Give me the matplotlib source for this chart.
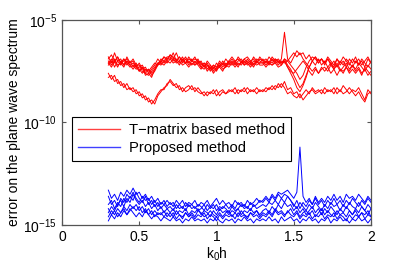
import numpy as np
import matplotlib
matplotlib.use("Agg")
import matplotlib.pyplot as plt

plt.rcParams['font.family'] = ['Liberation Sans', 'DejaVu Sans']
plt.rcParams['mathtext.default'] = 'regular'

# k0h sampling, 0.30 .. 2.00 step 0.02 (86 points)
k0h = np.round(np.arange(0.30, 2.0001, 0.02), 3)

# log10 of the error, T-matrix based method (red)
red_a = [-6.8, -7.1, -6.6, -7.0, -6.9, -7.2, -6.8, -7.1, -7.0, -7.3,
         -7.1, -7.4, -7.3, -7.6, -7.4, -7.2, -6.9, -7.1, -6.8, -7.0,
         -6.7, -6.9, -6.6, -7.0, -6.8, -7.1, -6.9, -7.0, -6.8, -7.1,
         -7.0, -7.3, -7.1, -7.4, -7.2, -7.3, -7.0, -7.2, -6.9, -7.1,
         -6.9, -7.1, -6.8, -7.0, -7.2, -6.9, -7.1, -6.8, -7.0, -7.1,
         -6.9, -7.1, -6.8, -7.0, -6.9, -7.1, -6.9, -5.6, -6.9, -7.1,
         -6.8, -6.5, -6.7, -6.6, -6.9, -6.7, -7.0, -6.8, -7.1, -6.9,
         -7.2, -6.9, -7.1, -7.3, -6.9, -7.2, -7.0, -7.3, -6.9, -7.1,
         -6.8, -7.2, -7.0, -7.3, -6.9, -7.1]
red_b = [-7.1, -6.9, -7.3, -7.0, -7.2, -6.9, -7.1, -7.3, -7.2, -7.4,
         -7.3, -7.2, -7.5, -7.4, -7.7, -7.5, -7.2, -7.0, -7.1, -6.9,
         -6.9, -6.6, -7.0, -6.8, -7.1, -6.9, -7.2, -7.0, -7.1, -6.9,
         -7.2, -7.1, -7.4, -7.2, -7.5, -7.3, -7.2, -7.1, -7.3, -7.0,
         -7.1, -7.0, -7.2, -7.1, -6.9, -7.1, -7.0, -7.2, -6.9, -7.0,
         -7.1, -7.0, -7.2, -6.9, -7.1, -7.0, -7.2, -6.9, -7.2, -7.4,
         -7.7, -8.0, -8.3, -8.1, -7.7, -7.3, -7.0, -7.2, -6.9, -7.2,
         -7.0, -7.3, -7.1, -7.4, -7.2, -7.5, -7.3, -7.1, -7.4, -7.2,
         -7.4, -7.1, -7.3, -7.5, -7.2, -7.4]
red_c = [-7.0, -7.2, -6.9, -7.2, -7.1, -6.9, -7.2, -7.0, -7.3, -7.1,
         -7.4, -7.6, -7.4, -7.5, -7.3, -7.1, -7.2, -6.9, -7.0, -6.8,
         -6.8, -7.0, -6.9, -7.1, -7.0, -6.8, -7.1, -6.9, -7.2, -7.0,
         -7.3, -7.1, -7.2, -7.5, -7.3, -7.4, -7.1, -7.3, -7.1, -7.2,
         -7.0, -7.2, -7.0, -6.9, -7.1, -7.0, -7.2, -7.0, -7.1, -6.9,
         -7.0, -7.2, -7.0, -7.1, -6.9, -7.0, -7.1, -6.9, -7.0, -7.2,
         -7.4, -7.6, -7.9, -7.7, -7.3, -7.0, -6.8, -6.9, -7.1, -6.9,
         -7.1, -6.9, -7.2, -7.0, -7.3, -7.0, -7.2, -6.9, -7.1, -7.3,
         -7.0, -7.2, -6.9, -7.1, -7.3, -7.0]
red_d = [-7.2, -7.0, -7.1, -6.8, -7.1, -7.3, -7.0, -7.2, -7.4, -7.2,
         -7.5, -7.3, -7.6, -7.7, -7.5, -7.3, -7.1, -7.2, -7.0, -7.1,
         -6.9, -7.1, -7.0, -7.2, -6.9, -7.1, -7.0, -7.2, -7.0, -7.2,
         -7.4, -7.2, -7.5, -7.3, -7.6, -7.4, -7.3, -7.5, -7.2, -7.3,
         -7.1, -7.3, -7.1, -7.2, -7.0, -7.2, -7.1, -7.3, -7.0, -7.2,
         -7.2, -7.0, -7.1, -7.2, -7.0, -7.2, -7.0, -7.1, -7.0, -6.8,
         -6.6, -6.8, -6.6, -6.9, -7.1, -7.3, -7.5, -7.3, -7.6, -7.4,
         -7.3, -7.5, -7.2, -7.4, -7.1, -7.4, -7.6, -7.3, -7.5, -7.2,
         -7.5, -7.3, -7.6, -7.4, -7.7, -7.5]
red_e = [-6.9, -6.7, -7.0, -6.8, -7.1, -7.0, -6.9, -7.1, -6.9, -7.2,
         -7.2, -7.5, -7.6, -7.4, -7.6, -7.4, -7.1, -7.0, -6.8, -6.9,
         -6.7, -6.8, -7.0, -6.8, -7.0, -7.1, -6.8, -7.0, -6.9, -7.0,
         -7.1, -7.3, -7.0, -7.2, -7.4, -7.1, -7.3, -7.0, -7.2, -7.0,
         -6.8, -7.0, -6.9, -7.1, -6.9, -6.8, -7.0, -6.9, -7.1, -6.8,
         -7.0, -6.9, -7.1, -6.8, -7.0, -6.9, -7.1, -7.0, -7.3, -7.6,
         -7.9, -8.3, -8.5, -8.2, -7.8, -7.3, -7.0, -6.8, -7.0, -6.9,
         -7.1, -6.8, -7.0, -7.2, -6.9, -7.1, -6.8, -7.0, -7.2, -6.9,
         -7.1, -6.9, -7.2, -7.0, -6.8, -7.1]
red_f = [-7.1, -7.3, -7.0, -7.3, -7.0, -7.2, -7.0, -7.2, -7.1, -7.3,
         -7.5, -7.3, -7.7, -7.6, -7.8, -7.4, -7.2, -7.1, -7.2, -7.0,
         -7.1, -6.9, -7.1, -7.0, -7.2, -7.1, -7.3, -7.1, -7.2, -7.1,
         -7.3, -7.4, -7.2, -7.4, -7.2, -7.5, -7.2, -7.4, -7.3, -7.1,
         -7.2, -7.1, -7.3, -7.0, -7.2, -7.1, -7.3, -7.1, -7.2, -7.1,
         -7.1, -7.3, -7.1, -7.2, -7.1, -7.3, -7.2, -7.0, -7.3, -7.5,
         -7.6, -7.4, -7.2, -7.0, -7.2, -7.5, -7.7, -7.4, -7.6, -7.3,
         -7.5, -7.3, -7.6, -7.4, -7.7, -7.4, -7.5, -7.3, -7.6, -7.4,
         -7.6, -7.4, -7.7, -7.3, -7.5, -7.7]
red_g = [-7.6, -7.9, -7.7, -8.1, -8.0, -8.3, -8.1, -8.4, -8.3, -8.6,
         -8.5, -8.8, -8.7, -9.0, -8.9, -9.1, -8.7, -8.5, -8.3, -8.2,
         -7.9, -8.1, -8.3, -8.2, -8.5, -8.3, -8.2, -8.4, -8.3, -8.5,
         -8.6, -8.5, -8.7, -8.5, -8.6, -8.4, -8.7, -8.5, -8.6, -8.4,
         -8.5, -8.3, -8.6, -8.4, -8.5, -8.3, -8.5, -8.4, -8.6, -8.4,
         -8.5, -8.3, -8.4, -8.2, -8.4, -8.1, -8.3, -8.0, -8.4, -8.3,
         -8.6, -8.5, -8.8, -8.6, -8.4, -8.6, -8.3, -8.5, -8.4, -8.6,
         -8.3, -8.5, -8.4, -8.6, -8.3, -8.5, -8.2, -8.4, -8.6, -8.4,
         -8.5, -8.3, -8.6, -8.9, -8.4, -8.6]
red_h = [-7.8, -7.7, -8.0, -7.9, -8.2, -8.1, -8.4, -8.3, -8.5, -8.4,
         -8.7, -8.6, -8.9, -8.8, -9.1, -8.9, -8.6, -8.4, -8.4, -8.1,
         -8.0, -8.2, -8.1, -8.4, -8.3, -8.5, -8.4, -8.2, -8.5, -8.3,
         -8.5, -8.7, -8.5, -8.6, -8.4, -8.7, -8.5, -8.4, -8.6, -8.5,
         -8.4, -8.6, -8.4, -8.5, -8.3, -8.6, -8.4, -8.5, -8.3, -8.5,
         -8.4, -8.5, -8.3, -8.4, -8.2, -8.3, -8.1, -8.3, -8.6, -8.5,
         -8.7, -8.8, -8.6, -8.9, -8.7, -8.5, -8.4, -8.6, -8.5, -8.4,
         -8.6, -8.4, -8.5, -8.3, -8.6, -8.4, -8.6, -8.5, -8.3, -8.5,
         -8.7, -8.5, -8.8, -9.0, -8.6, -8.5]

# log10 of the error, proposed method (blue)
blue_a = [-13.3, -13.7, -13.5, -13.8, -13.4, -13.6, -13.3, -13.5, -13.2, -13.5,
          -13.4, -13.7, -13.5, -13.8, -13.6, -13.9, -13.7, -14.0, -13.8, -14.1,
          -13.9, -14.1, -13.8, -14.0, -13.8, -14.1, -13.9, -14.0, -13.8, -14.1,
          -13.9, -14.0, -13.8, -14.1, -13.9, -13.7, -14.0, -13.8, -14.0, -13.9,
          -14.1, -13.8, -14.0, -13.9, -14.1, -13.8, -14.0, -13.9, -13.7, -13.9,
          -13.8, -13.6, -13.8, -13.5, -13.7, -13.4, -13.5, -13.4, -13.3, -13.5,
          -13.7, -13.4, -11.2, -13.6, -13.9, -13.7, -14.0, -13.6, -13.9, -13.7,
          -13.9, -13.6, -13.8, -13.5, -13.8, -13.6, -13.9, -13.5, -13.7, -13.6,
          -13.8, -13.5, -13.7, -13.9, -13.6, -13.8]
blue_b = [-14.0, -13.8, -14.2, -13.9, -14.1, -13.7, -13.9, -13.6, -13.8, -13.4,
          -13.7, -13.9, -13.6, -14.0, -13.8, -14.1, -13.9, -14.2, -14.0, -14.2,
          -14.1, -14.3, -14.0, -14.2, -14.1, -14.3, -14.0, -14.2, -14.1, -14.3,
          -14.2, -14.0, -14.3, -14.1, -14.2, -14.0, -14.3, -14.1, -14.2, -14.4,
          -14.1, -14.3, -14.2, -14.0, -14.2, -14.1, -14.3, -14.0, -14.2, -14.1,
          -14.0, -14.1, -13.9, -14.0, -13.8, -14.0, -13.7, -13.9, -13.6, -13.8,
          -14.0, -14.2, -13.9, -14.1, -14.3, -14.0, -14.2, -13.9, -14.1, -14.3,
          -14.0, -14.2, -13.9, -14.1, -14.0, -14.3, -14.0, -14.2, -13.9, -14.1,
          -14.2, -13.9, -14.1, -14.3, -14.0, -14.2]
blue_c = [-14.4, -14.1, -14.3, -14.0, -13.8, -14.1, -13.7, -13.9, -13.5, -13.8,
          -14.0, -13.8, -14.1, -13.9, -14.2, -14.0, -14.3, -14.1, -14.4, -14.2,
          -14.4, -14.2, -14.5, -14.3, -14.4, -14.2, -14.5, -14.3, -14.4, -14.2,
          -14.5, -14.3, -14.4, -14.6, -14.3, -14.5, -14.2, -14.4, -14.3, -14.5,
          -14.3, -14.4, -14.2, -14.5, -14.3, -14.4, -14.2, -14.4, -14.3, -14.5,
          -14.3, -14.2, -14.4, -14.1, -14.3, -14.0, -14.2, -13.9, -14.1, -14.0,
          -14.3, -14.1, -14.4, -14.2, -14.5, -14.3, -14.1, -14.4, -14.2, -14.5,
          -14.2, -14.4, -14.1, -14.3, -14.5, -14.2, -14.4, -14.1, -14.3, -14.5,
          -14.2, -14.4, -14.1, -14.3, -14.5, -14.2]
blue_d = [-14.6, -14.3, -14.5, -14.2, -14.4, -14.1, -14.3, -14.0, -14.2, -14.0,
          -14.3, -14.1, -14.4, -14.2, -14.5, -14.3, -14.5, -14.4, -14.6, -14.4,
          -14.6, -14.4, -14.7, -14.5, -14.6, -14.4, -14.6, -14.5, -14.7, -14.5,
          -14.6, -14.4, -14.7, -14.5, -14.6, -14.8, -14.5, -14.7, -14.5, -14.6,
          -14.5, -14.7, -14.4, -14.6, -14.5, -14.7, -14.4, -14.6, -14.5, -14.7,
          -14.5, -14.6, -14.4, -14.6, -14.3, -14.5, -14.4, -14.6, -14.3, -14.5,
          -14.6, -14.4, -14.7, -14.5, -14.6, -14.4, -14.7, -14.5, -14.6, -14.4,
          -14.7, -14.5, -14.6, -14.4, -14.7, -14.5, -14.6, -14.8, -14.5, -14.7,
          -14.5, -14.6, -14.4, -14.7, -14.5, -14.6]
blue_e = [-14.8, -14.5, -14.7, -14.4, -14.6, -14.3, -14.5, -14.2, -14.4, -14.6,
          -14.4, -14.6, -14.3, -14.5, -14.7, -14.5, -14.6, -14.8, -14.6, -14.7,
          -14.8, -14.6, -14.8, -14.7, -14.9, -14.7, -14.8, -14.6, -14.8, -14.7,
          -14.8, -14.7, -14.9, -14.7, -14.8, -14.6, -14.8, -14.9, -14.7, -14.8,
          -14.7, -14.9, -14.7, -14.8, -14.6, -14.8, -14.7, -14.9, -14.7, -14.8,
          -14.7, -14.8, -14.6, -14.8, -14.7, -14.9, -14.6, -14.8, -14.7, -14.6,
          -14.8, -14.7, -14.9, -14.7, -14.8, -14.6, -14.8, -14.7, -14.9, -14.7,
          -14.8, -14.6, -14.9, -14.7, -14.8, -14.6, -14.8, -14.7, -14.9, -14.7,
          -14.8, -14.6, -14.8, -14.7, -14.9, -14.7]
blue_f = [-13.6, -14.0, -13.8, -14.1, -13.7, -13.9, -13.5, -13.7, -13.4, -13.7,
          -13.9, -13.6, -13.8, -13.7, -14.0, -13.8, -14.1, -13.9, -14.0, -13.8,
          -14.0, -13.9, -14.2, -14.0, -14.2, -13.9, -14.1, -14.0, -14.2, -14.0,
          -14.1, -14.3, -14.0, -14.2, -14.0, -14.3, -14.1, -14.2, -14.0, -14.2,
          -14.0, -14.2, -13.9, -14.1, -14.0, -14.2, -13.9, -14.1, -14.0, -13.8,
          -13.9, -13.7, -13.9, -13.6, -13.8, -13.5, -13.7, -13.5, -13.6, -13.8,
          -14.1, -13.8, -14.2, -13.9, -14.1, -13.8, -14.0, -13.7, -14.0, -13.8,
          -14.1, -13.8, -14.0, -13.7, -14.0, -13.8, -14.1, -13.8, -14.0, -13.7,
          -13.9, -14.1, -13.8, -14.0, -13.7, -13.9]
blue_g = [-14.2, -14.5, -14.3, -14.6, -14.4, -14.2, -14.5, -14.3, -14.1, -14.3,
          -14.1, -14.4, -14.2, -14.5, -14.3, -14.6, -14.4, -14.5, -14.3, -14.6,
          -14.4, -14.6, -14.3, -14.5, -14.7, -14.4, -14.6, -14.4, -14.6, -14.3,
          -14.4, -14.6, -14.5, -14.3, -14.5, -14.6, -14.4, -14.6, -14.4, -14.3,
          -14.6, -14.4, -14.6, -14.3, -14.5, -14.6, -14.4, -14.5, -14.3, -14.6,
          -14.4, -14.5, -14.3, -14.5, -14.2, -14.4, -14.3, -14.5, -14.4, -14.2,
          -14.5, -14.3, -14.6, -14.4, -14.3, -14.5, -14.3, -14.6, -14.4, -14.2,
          -14.5, -14.3, -14.5, -14.6, -14.3, -14.5, -14.4, -14.6, -14.3, -14.5,
          -14.3, -14.6, -14.4, -14.5, -14.3, -14.6]

red_series = [red_a, red_b, red_c, red_d, red_e, red_f, red_g, red_h]
blue_series = [blue_a, blue_b, blue_c, blue_d, blue_e, blue_f, blue_g]

fig = plt.figure(figsize=(4.09, 2.72), dpi=100)
ax = fig.add_axes([0.1516, 0.1728, 0.7555, 0.7537])

for i, s in enumerate(red_series):
    ax.plot(k0h, 10.0 ** np.array(s), color='red', lw=0.7,
            label='T\u2212matrix based method' if i == 0 else None)
for i, s in enumerate(blue_series):
    ax.plot(k0h, 10.0 ** np.array(s), color='blue', lw=0.7,
            label='Proposed method' if i == 0 else None)

ax.set_yscale('log')
ax.set_xlim(0, 2)
ax.set_ylim(1e-15, 1e-5)
ax.set_xticks([0, 0.5, 1, 1.5, 2])
ax.set_xticklabels(['0', '0.5', '1', '1.5', '2'])
ax.set_yticks([1e-15, 1e-10, 1e-5])
ax.yaxis.set_minor_locator(matplotlib.ticker.NullLocator())
ax.tick_params(direction='in', top=True, right=True, length=3, labelsize=10,
               color='#555555')
for sp in ax.spines.values():
    sp.set_linewidth(0.9)
    sp.set_color('#555555')

ax.set_xlabel(r'k$_0$h', fontsize=10, labelpad=1)
ax.set_ylabel('error on the plane wave spectrum', fontsize=10, labelpad=2)

leg = ax.legend(loc='upper left', bbox_to_anchor=(0.032, 0.527), fontsize=10.6,
                fancybox=False, framealpha=1, edgecolor='black',
                handlelength=2.9, handletextpad=0.6, borderaxespad=0,
                labelspacing=0.3)
leg.get_frame().set_linewidth(0.8)
for h in leg.get_lines():
    h.set_linewidth(1.0)
    h.set_alpha(0.75)

fig.savefig('out.png', dpi=100)
